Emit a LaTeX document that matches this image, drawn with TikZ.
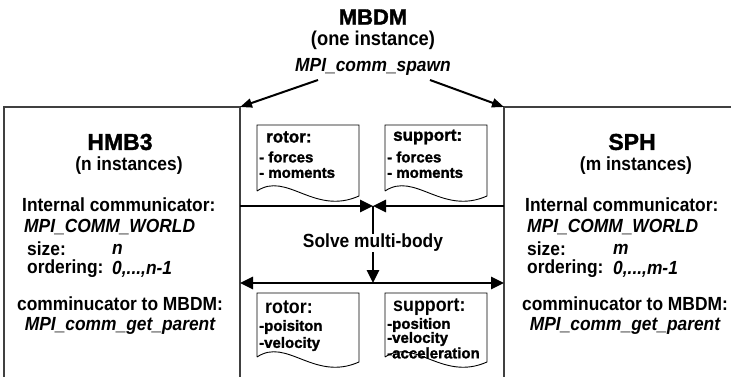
\documentclass[tikz,border=0pt]{standalone}
\usepackage{fontspec}
\setmainfont{Liberation Sans}
\newfontfamily\heavyfont[FakeStretch=0.915]{Liberation Sans Bold}
\newfontfamily\heavyit[FakeStretch=0.915]{Liberation Sans Bold Italic}
\newfontfamily\heavybold[FakeBold=1.5]{Liberation Sans Bold}
\usetikzlibrary{arrows.meta}
\newcommand{\mydocshape}[4]{% x1 x2 ytop ybottom-left
  \draw[docline] (#1,#4) -- (#1,#3) -- (#2,#3) -- (#2,#4+5)
    .. controls (#2-45,#4+25) and (#1+30,#4-20) .. (#1,#4);}
\begin{document}
\begin{tikzpicture}[x=1pt,y=-1pt,
  boxline/.style={line width=1.3pt, draw=black!75},
  docline/.style={line width=0.9pt, draw=black},
  bigarrow/.style={line width=2.8pt, -{Triangle[length=13pt,width=12pt]}},
  spawnarrow/.style={line width=2pt, -{Triangle[length=12pt,width=9pt]}},
  body/.style={font=\heavyfont\fontsize{19}{21}\selectfont, inner sep=0pt},
  bodyit/.style={font=\heavyit\fontsize{19}{21}\selectfont, inner sep=0pt},
  title/.style={font=\heavybold\fontsize{23}{25}\selectfont, inner sep=0pt},
  doctitle/.style={font=\heavybold\fontsize{17}{19}\selectfont, inner sep=0pt},
  docitem/.style={font=\heavybold\fontsize{15}{17}\selectfont, inner sep=0pt},
  doctitleb/.style={font=\heavyfont\fontsize{19.5}{22}\selectfont, inner sep=0pt}]
\useasboundingbox (0,0) rectangle (731,377);

% top texts
\node[title, font=\heavybold\fontsize{22}{24}\selectfont] (mbdm) at (373,17) {MBDM};
\node[body, font=\heavyfont\fontsize{20}{22}\selectfont] (onei) at (373,40) {(one instance)};
\node[bodyit] (spawn) at (373,67) {MPI\_comm\_spawn};

% boxes
\coordinate (lbtr) at (240,107);
\coordinate (rbtl) at (504,107);
\draw[boxline] (4,377) -- (4,107) -- (lbtr) -- (240,377);
\draw[boxline] (731,107) -- (rbtl) -- (504,377);

\coordinate (sL) at (318,80);
\coordinate (sR) at (430,80);
\draw[spawnarrow] (sL) -- (lbtr);
\draw[spawnarrow] (sR) -- (rbtl);

% left box text
\node[title] (hmb) at (120,142) {HMB3};
\node[body] (ninst) at (129,166) {(n instances)};
\node[body, anchor=west] (lic) at (22,205) {Internal communicator:};
\node[bodyit, anchor=west] (lcw) at (24,227) {MPI\_COMM\_WORLD};
\node[body, anchor=west] (lsz) at (27,249) {size:};
\node[bodyit, anchor=west] (lszv) at (112,249) {n};
\node[body, anchor=west] (lord) at (27,269) {ordering:};
\node[bodyit, anchor=west] (lordv) at (112,269) {0,...,n-1};
\node[body] (lcm) at (120,304) {comminucator to MBDM:};
\node[bodyit] (lgp) at (120,326) {MPI\_comm\_get\_parent};

% right box text
\node[title] (sph) at (632,142) {SPH};
\node[body] (minst) at (636,166) {(m instances)};
\node[body, anchor=west] (ric) at (525,205) {Internal communicator:};
\node[bodyit, anchor=west] (rcw) at (527,227) {MPI\_COMM\_WORLD};
\node[body, anchor=west] (rsz) at (527,249) {size:};
\node[bodyit, anchor=west] (rszv) at (613,249) {m};
\node[body, anchor=west] (rord) at (527,269) {ordering:};
\node[bodyit, anchor=west] (rordv) at (613,269) {0,...,m-1};
\node[body] (rcm) at (625,304) {comminucator to MBDM:};
\node[bodyit] (rgp) at (625,326) {MPI\_comm\_get\_parent};

% top documents
\mydocshape{257}{359}{125}{191}
\mydocshape{385}{487}{125}{191}
\node[doctitle, anchor=west] (rt1) at (266,137) {rotor:};
\node[docitem, anchor=west] (rt2) at (259,157) {- forces};
\node[docitem, anchor=west] (rt3) at (259,173) {- moments};
\node[doctitle, anchor=west] (st1) at (393,137) {support:};
\node[docitem, anchor=west] (st2) at (387,157) {- forces};
\node[docitem, anchor=west] (st3) at (387,173) {- moments};

% middle arrows
\coordinate (lmid) at (240,206);
\coordinate (rmid) at (504,206);
\coordinate (cmid) at (373,206);
\draw[bigarrow] (lmid) -- (cmid);
\draw[bigarrow] (rmid) -- (cmid);
\node[body] (solve) at (373,243) {Solve multi-body};
\draw[line width=2.8pt] (cmid) -- (solve.north);
\coordinate (cbot) at (373,283);
\coordinate (lbot) at (240,283);
\coordinate (rbot) at (504,283);
\draw[bigarrow] (solve.south) -- (cbot);
\draw[line width=2.8pt, {Triangle[length=13pt,width=12pt]}-{Triangle[length=13pt,width=12pt]}] (lbot) -- (rbot);

% bottom documents
\mydocshape{257}{359}{293}{357}
\mydocshape{385}{487}{293}{357}
\node[doctitleb, anchor=west] (rb1) at (265,307) {rotor:};
\node[docitem, anchor=west] (rb2) at (259,327) {-poisiton};
\node[docitem, anchor=west] (rb3) at (259,344) {-velocity};
\node[doctitleb, anchor=west] (sb1) at (393,307) {support:};
\node[docitem, anchor=west] (sb2) at (387,325) {-position};
\node[docitem, anchor=west] (sb3) at (387,339) {-velocity};
\node[docitem, anchor=west] (sb4) at (387,353) {-acceleration};
\end{tikzpicture}
\end{document}
